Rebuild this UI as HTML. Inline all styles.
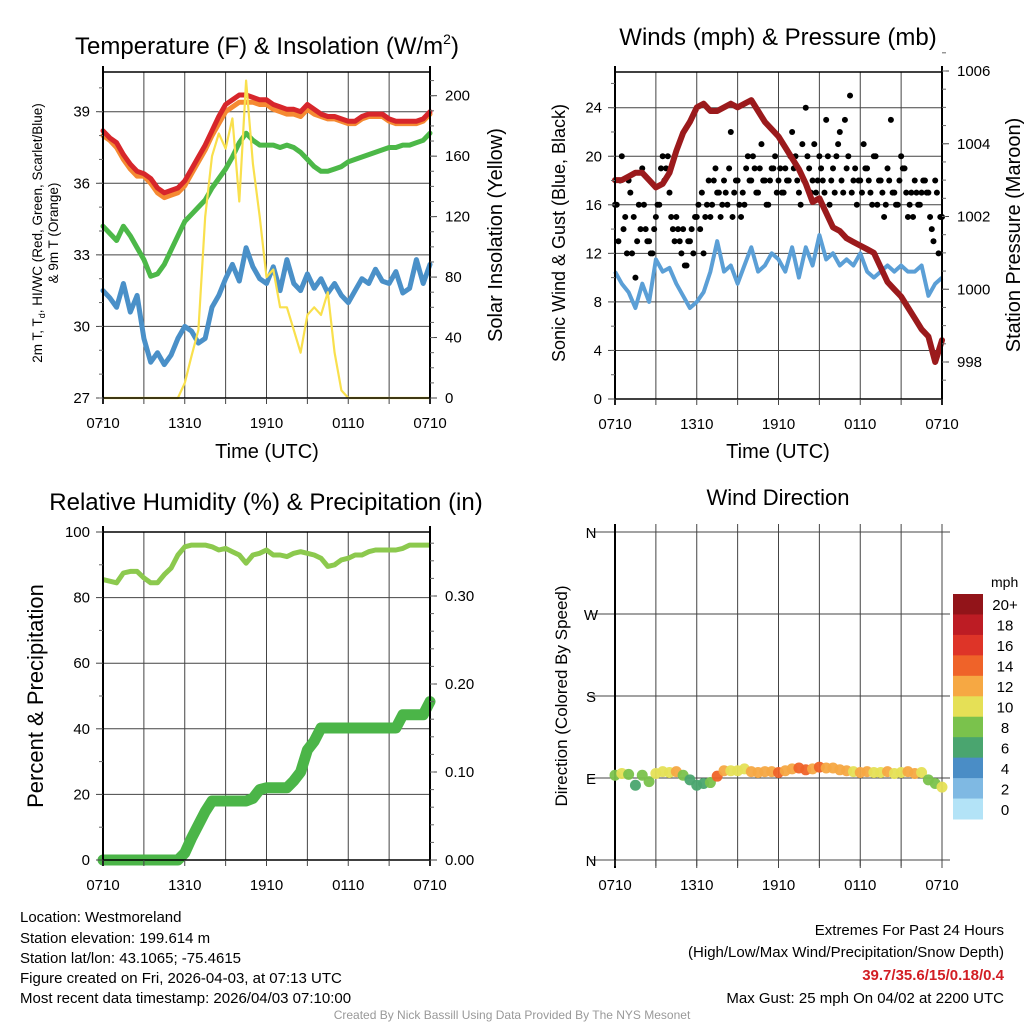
<!DOCTYPE html>
<html><head><meta charset="utf-8"><style>
html,body{margin:0;padding:0;background:#fff;}
svg{display:block;font-family:"Liberation Sans",Arial,sans-serif;}
</style></head><body>
<svg id="s" width="1024" height="1024" viewBox="0 0 1024 1024" xmlns="http://www.w3.org/2000/svg">
<g id="txt" fill="#000">
<text x="267" y="54" font-size="24" text-anchor="middle">Temperature (F) &amp; Insolation (W/m<tspan font-size="14" dy="-10">2</tspan><tspan dy="10">)</tspan></text>
<text font-size="13.5" text-anchor="middle" transform="translate(42,233) rotate(-90)">2m T, T<tspan font-size="9" dy="3">d</tspan><tspan dy="-3">, HI/WC (Red, Green, Scarlet/Blue)</tspan></text>
<text font-size="13.5" text-anchor="middle" transform="translate(58,233) rotate(-90)">&amp; 9m T (Orange)</text>
<text font-size="20" text-anchor="middle" transform="translate(502,235) rotate(-90)">Solar Insolation (Yellow)</text>
<text x="267" y="458" font-size="20" text-anchor="middle">Time (UTC)</text>
<text x="778" y="45" font-size="24" text-anchor="middle">Winds (mph) &amp; Pressure (mb)</text>
<text font-size="18" text-anchor="middle" transform="translate(565,233) rotate(-90)">Sonic Wind &amp; Gust (Blue, Black)</text>
<text font-size="20" text-anchor="middle" transform="translate(1020,235) rotate(-90)">Station Pressure (Maroon)</text>
<text x="778" y="458" font-size="20" text-anchor="middle">Time (UTC)</text>
<text x="266" y="510" font-size="24" text-anchor="middle">Relative Humidity (%) &amp; Precipitation (in)</text>
<text font-size="22" text-anchor="middle" transform="translate(43,696) rotate(-90)">Percent &amp; Precipitation</text>
<text x="778" y="505" font-size="22" text-anchor="middle">Wind Direction</text>
<text font-size="17" text-anchor="middle" transform="translate(567,696) rotate(-90)">Direction (Colored By Speed)</text>
<text x="991" y="587" font-size="14">mph</text>
<g font-size="15">
<text x="20" y="922">Location: Westmoreland</text>
<text x="20" y="943">Station elevation: 199.614 m</text>
<text x="20" y="963">Station lat/lon: 43.1065; -75.4615</text>
<text x="20" y="983">Figure created on Fri, 2026-04-03, at 07:13 UTC</text>
<text x="20" y="1003">Most recent data timestamp: 2026/04/03 07:10:00</text>
</g>
<g font-size="15" text-anchor="end">
<text x="1004" y="935">Extremes For Past 24 Hours</text>
<text x="1004" y="957">(High/Low/Max Wind/Precipitation/Snow Depth)</text>
<text x="1004" y="980" fill="#d21e24" font-weight="bold">39.7/35.6/15/0.18/0.4</text>
<text x="1004" y="1003">Max Gust: 25 mph On 04/02 at 2200 UTC</text>
</g>
<text x="512" y="1019" font-size="12" fill="#999" text-anchor="middle">Created By Nick Bassill Using Data Provided By The NYS Mesonet</text>
</g>
</svg>
<script>
// ===== data (hours since 0710 UTC, step 0.5 unless noted) =====
const xTickLabels = ["0710","1310","1910","0110","0710"];
const tempT = [38.2,37.9,37.7,37.2,36.8,36.5,36.4,36.2,35.8,35.6,35.7,35.8,36.1,36.6,37.1,37.6,38.2,38.8,39.3,39.5,39.7,39.7,39.6,39.5,39.5,39.3,39.2,39.1,39.1,39.0,39.3,39.1,38.9,38.8,38.8,38.7,38.6,38.6,38.8,38.9,38.9,38.9,38.7,38.6,38.6,38.6,38.6,38.7,39.0];
const temp9m = [38.0,37.8,37.5,37.0,36.6,36.3,36.3,36.0,35.6,35.4,35.5,35.6,35.9,36.4,36.9,37.4,38.0,38.5,39.0,39.2,39.4,39.4,39.4,39.3,39.3,39.1,39.0,38.9,38.9,38.8,39.1,38.9,38.8,38.7,38.7,38.6,38.5,38.5,38.7,38.8,38.8,38.8,38.6,38.5,38.5,38.5,38.5,38.6,38.9];
const dewT = [34.2,33.9,33.6,34.2,33.8,33.3,32.8,32.1,32.2,32.6,33.2,33.8,34.4,34.7,35.0,35.3,35.8,36.2,36.6,37.1,37.7,38.1,37.8,37.6,37.6,37.6,37.5,37.6,37.5,37.3,37.0,36.7,36.5,36.5,36.6,36.7,36.9,37.0,37.1,37.2,37.3,37.4,37.5,37.5,37.6,37.6,37.7,37.8,38.1];
const chillT = [31.5,31.2,30.8,31.8,30.6,31.3,29.5,28.5,28.9,28.4,28.8,29.5,30.0,29.8,29.3,29.5,30.8,31.3,32.0,32.6,31.9,33.3,32.5,32.0,31.8,32.5,31.5,32.8,31.8,31.5,32.2,31.6,32.0,31.4,31.8,31.3,31.0,31.5,32.0,31.8,32.4,31.9,31.8,32.3,31.4,31.6,32.8,31.8,32.6];
const solar = [0,0,0,0,0,0,0,0,0,0,0,0,10,28,45,120,160,175,165,185,130,210,155,120,80,85,60,60,45,30,55,60,55,70,30,5,0,0,0,0,0,0,0,0,0,0,0,0,0];
const windSpd = [10.5,9.5,8.8,7.5,9.5,8,11.5,10.5,10.8,9.5,8.5,7.5,8,8.8,10.5,13,10.5,11,9.5,11,12.5,10.5,11,12,11.5,10.5,12.5,10,12.5,11,13.5,11.5,12,11,11.5,11,12,10.5,10,10.5,11,10.5,11,10.5,10.5,11,8.5,9.5,10];
const pressure = [1003.0,1003.0,1003.1,1003.2,1003.2,1003.0,1002.8,1002.9,1003.2,1003.8,1004.3,1004.6,1005.0,1005.1,1004.9,1004.9,1005.0,1005.1,1005.0,1005.1,1005.2,1004.9,1004.6,1004.4,1004.2,1003.9,1003.6,1003.3,1002.9,1002.4,1002.5,1002.1,1001.7,1001.6,1001.4,1001.3,1001.2,1001.1,1001.0,1000.6,1000.2,1000.0,999.8,999.5,999.2,998.9,998.7,998.0,998.6];
// gusts: step 0.25 h
const gusts = [16,13,20,15,18,12,10,16, 19,14,13,12,15,16,20,19, 17,14,15,13,14,11,13,12, 15,14,12,16,15,18,17,15, 18,16,22,17,18,15,16,20, 18,19,17,21,18,16,19,20, 18,17,19,18,22,20,17,21, 24,19,18,17,20,18,23,16, 19,20,22,17,19,25,18,16, 18,21,19,17,20,16,18,15, 19,23,17,16,20,19,15,17, 18,16,17,18,17,14,18,12, 15];
// gusts offset by 0.125 h
const gustsB = [16,18,14,12,17,15,13,14, 16,13,12,14,16,19,18,20, 15,13,14,12,11,13,14,15, 16,17,15,18,16,19,17,16, 17,19,15,18,16,17,19,18, 20,17,19,18,16,18,19,17, 19,17,18,20,19,18,16,18, 20,17,21,18,19,17,20,18, 17,21,18,23,20,17,19,18, 17,19,18,16,20,18,17,16, 18,17,16,18,19,17,16,15, 17,16,18,17,15,13,17,15];
const rh = [85.5,85,84.5,87.5,88,88,86,84.5,84.5,87,89,93,95.5,96,96,96,95.5,94.5,95,94,93,90.5,93,93.5,94.5,93,93,92.5,93.5,94,93.5,93,92,89.5,90,91.5,92,93,93,94,94.5,94.5,94.5,94.5,95,96,96,96,96];
const precip = [0,0,0,0,0,0,0,0,0,0,0,0,0.008,0.025,0.04,0.055,0.067,0.067,0.067,0.067,0.067,0.067,0.07,0.08,0.082,0.082,0.082,0.082,0.09,0.10,0.125,0.135,0.15,0.15,0.15,0.15,0.15,0.15,0.15,0.15,0.15,0.15,0.15,0.15,0.165,0.165,0.165,0.165,0.18];
const windDir = [93,95,94,82,93,86,95,97,96,97,93,88,82,84,85,92,98,98,98,100,97,96,97,97,96,98,100,101,99,100,102,101,101,99,98,97,96,97,96,96,97,95,96,97,95,96,88,84,80];
const dirSpd = [9,10,8,7,9,8,10,10,10,12,8,7,6,6,8,14,12,11,10,11,12,12,12,12,14,12,12,14,14,13,14,12,12,12,12,10,12,12,10,11,12,10,10,12,12,10,8,8,10];
const cbarLabels = ["20+","18","16","14","12","10","8","6","4","2","0"];
const cbarColors = ["#921419","#bd1c24","#de3428","#ef6329","#f6a843","#e5e056","#7ac24c","#4aa56f","#4a8dc6","#7fb9e3","#b3e3f7"];

// ===== helpers =====
const NS="http://www.w3.org/2000/svg";
const svg=document.getElementById('s');
function el(tag,attrs,parent){const e=document.createElementNS(NS,tag);for(const k in attrs)e.setAttribute(k,attrs[k]);(parent||svg).appendChild(e);return e;}
function lin(d0,d1,r0,r1){return v=>r0+(v-d0)*(r1-r0)/(d1-d0);}
function pathFrom(xs,ys){return xs.map((x,i)=>(i?'L':'M')+x.toFixed(1)+','+ys[i].toFixed(1)).join('');}

function frame(name,L,R,T,B,hLines,vLines){
  const g=el('g',{});
  
  
  hLines.forEach(y=>{const l=el('line',{x1:L,x2:R,y1:y,y2:y,stroke:'#444','stroke-width':1},g);});
  vLines.forEach(x=>{const l=el('line',{x1:x,x2:x,y1:T,y2:B,stroke:'#444','stroke-width':1},g);});
  return g;
}
function border(L,R,T,B){
  el('line',{x1:L,x2:L,y1:T-6,y2:B+6,stroke:'#000','stroke-width':2});
  el('line',{x1:R,x2:R,y1:T-6,y2:B+6,stroke:'#000','stroke-width':2});
  el('line',{x1:L,x2:R,y1:T,y2:T,stroke:'#000','stroke-width':1.5});
  el('line',{x1:L,x2:R,y1:B,y2:B,stroke:'#000','stroke-width':1.5});
}
function xAxis(L,R,B,name){
  const x=lin(0,24,L,R);
  for(let h=0;h<=24;h+=3){el('line',{x1:x(h),x2:x(h),y1:B,y2:B+6,stroke:'#444','stroke-width':1});}
  xTickLabels.forEach((t,i)=>{const e=el('text',{x:x(i*6),y:B+30,'font-size':15,'text-anchor':'middle'});e.textContent=t;
    
    });
}
function yTicks(scale,vals,fmt,side,X,name,minor){
  vals.forEach(v=>{const y=scale(v);
    el('line',{x1:X,x2:side==='l'?X-7:X+7,y1:y,y2:y,stroke:'#444','stroke-width':1});
    const e=el('text',{x:side==='l'?X-13:X+15,y:y+5,'font-size':15,'text-anchor':side==='l'?'end':'start'});e.textContent=fmt(v);
    
    });
  (minor||[]).forEach(v=>{const y=scale(v);el('line',{x1:X,x2:side==='l'?X-4:X+4,y1:y,y2:y,stroke:'#666','stroke-width':1});});
}
function range(a,b,s){const r=[];for(let v=a;v<=b+1e-9;v+=s)r.push(+v.toFixed(4));return r;}
const hrs=tempT.map((_,i)=>i*0.5);

// ===== Panel 1: temperature =====
(function(){
  const L=103,R=430,T=72,B=398;
  const x=lin(0,24,L,R), y=lin(27,39,B,111.7), ys=lin(0,200,B,95.7);
  frame('temp',L,R,T,B,[27,30,33,36,39].map(y),range(0,24,3).map(x));
  const series=[[chillT,'#4a90c8',5,'dewpoint-blue-line'],[dewT,'#4cb848',5,'dewpoint-green-line'],[temp9m,'#f58a32',5,'temp-9m-line'],[tempT,'#d7262b',5,'temp-2m-line']];
  series.forEach(s=>{const p=el('path',{d:pathFrom(hrs.map(x),s[0].map(y)),fill:'none',stroke:s[1],'stroke-width':s[2],'stroke-linejoin':'round','stroke-linecap':'round'});
    
    });
  const ps=el('path',{d:pathFrom(hrs.map(x),solar.map(ys)),fill:'none',stroke:'#f9e04d','stroke-width':2.2,'stroke-linejoin':'round'});
  
  
  border(L,R,T,B);
  yTicks(y,[27,30,33,36,39],v=>v,'l',L,'temp-y',range(26,40,1).filter(v=>y(v)>=T-4));
  yTicks(ys,[0,40,80,120,160,200],v=>v,'r',R,'solar-y',range(10,210,10));
  xAxis(L,R,B,'temp');
})();

// ===== Panel 2: winds =====
(function(){
  const L=615,R=942,T=72,B=399;
  const x=lin(0,24,L,R), y=lin(0,24,B,107.7), yp=lin(998,1006,362,71);
  frame('wind',L,R,T,B,[4,8,12,16,20,24].map(y),range(0,24,3).map(x));
  const pb=el('path',{d:pathFrom(hrs.map(x),windSpd.map(y)),fill:'none',stroke:'#5b9fd6','stroke-width':4,'stroke-linejoin':'round'});
  
  
  const gg=el('g',{});
  
  
  gusts.forEach((v,i)=>{el('circle',{cx:x(i*0.25),cy:y(v),r:3,fill:'#000'},gg);});
  gustsB.forEach((v,i)=>{el('circle',{cx:x(i*0.25+0.125),cy:y(v),r:3,fill:'#000'},gg);});
  const pp=el('path',{d:pathFrom(hrs.map(x),pressure.map(yp)),fill:'none',stroke:'#9b1a1c','stroke-width':6,'stroke-linejoin':'round','stroke-linecap':'round'});
  
  
  border(L,R,T,B);
  yTicks(y,[0,4,8,12,16,20,24],v=>v,'l',L,'wind-y',range(2,26,2));
  yTicks(yp,[998,1000,1002,1004,1006],v=>v,'r',R,'pressure-y',range(997.5,1006.5,0.5));
  xAxis(L,R,B,'wind');
})();

// ===== Panel 3: RH & precip =====
(function(){
  const L=103,R=430,T=532,B=860;
  const x=lin(0,24,L,R), y=lin(0,100,B,T), yp=lin(0,0.3,B,596);
  frame('rh',L,R,T,B,[20,40,60,80].map(y),range(0,24,3).map(x));
  const pr=el('path',{d:pathFrom(hrs.map(x),rh.map(y)),fill:'none',stroke:'#8cc94e','stroke-width':5,'stroke-linejoin':'round'});
  
  
  const pc=el('path',{d:pathFrom(hrs.map(x),precip.map(yp)),fill:'none',stroke:'#4bb548','stroke-width':11,'stroke-linejoin':'round','stroke-linecap':'round'});
  
  
  border(L,R,T,B);
  yTicks(y,[0,20,40,60,80,100],v=>v,'l',L,'rh-y',range(10,90,20));
  yTicks(yp,[0,0.1,0.2,0.3],v=>v.toFixed(2),'r',R,'precip-y',range(0.02,0.36,0.02));
  xAxis(L,R,B,'rh');
})();

// ===== Panel 4: wind direction =====
(function(){
  const L=615,R=942,T=532,B=860;
  const x=lin(0,24,L,R), y=lin(0,360,B,T);
  frame('dir',L-25,R+8,T,B,[0,90,180,270,360].map(y),[]);
  range(0,24,3).forEach(h=>el('line',{x1:x(h),x2:x(h),y1:T-8,y2:B+8,stroke:'#444','stroke-width':1}));
  el('line',{x1:L,x2:L,y1:T-8,y2:B+8,stroke:'#000','stroke-width':2});
  ['N','E','S','W','N'].forEach((t,i)=>{const e=el('text',{x:591,y:y(i*90)+6,'font-size':15,'text-anchor':'middle'});e.textContent=t;
    
    });
  const g=el('g',{});
  
  
  windDir.forEach((d,i)=>{const bin=Math.min(10,Math.floor(dirSpd[i]/2));
    el('circle',{cx:x(hrs[i]),cy:y(d),r:5.5,fill:cbarColors[10-bin],opacity:0.95},g);});
  xAxis(L,R,B,'dir');
  // colorbar
  const cb=el('g',{});
  
  
  const h=(819-594)/11;
  cbarColors.forEach((c,i)=>{el('rect',{x:953,y:594+i*h,width:30,height:h+0.5,fill:c},cb);
    const t=el('text',{x:1005,y:594+i*h+h/2+6,'font-size':15,'text-anchor':'middle'},cb);t.textContent=cbarLabels[i];
    
    });
})();
svg.appendChild(document.getElementById('txt'));
</script>
</body></html>
